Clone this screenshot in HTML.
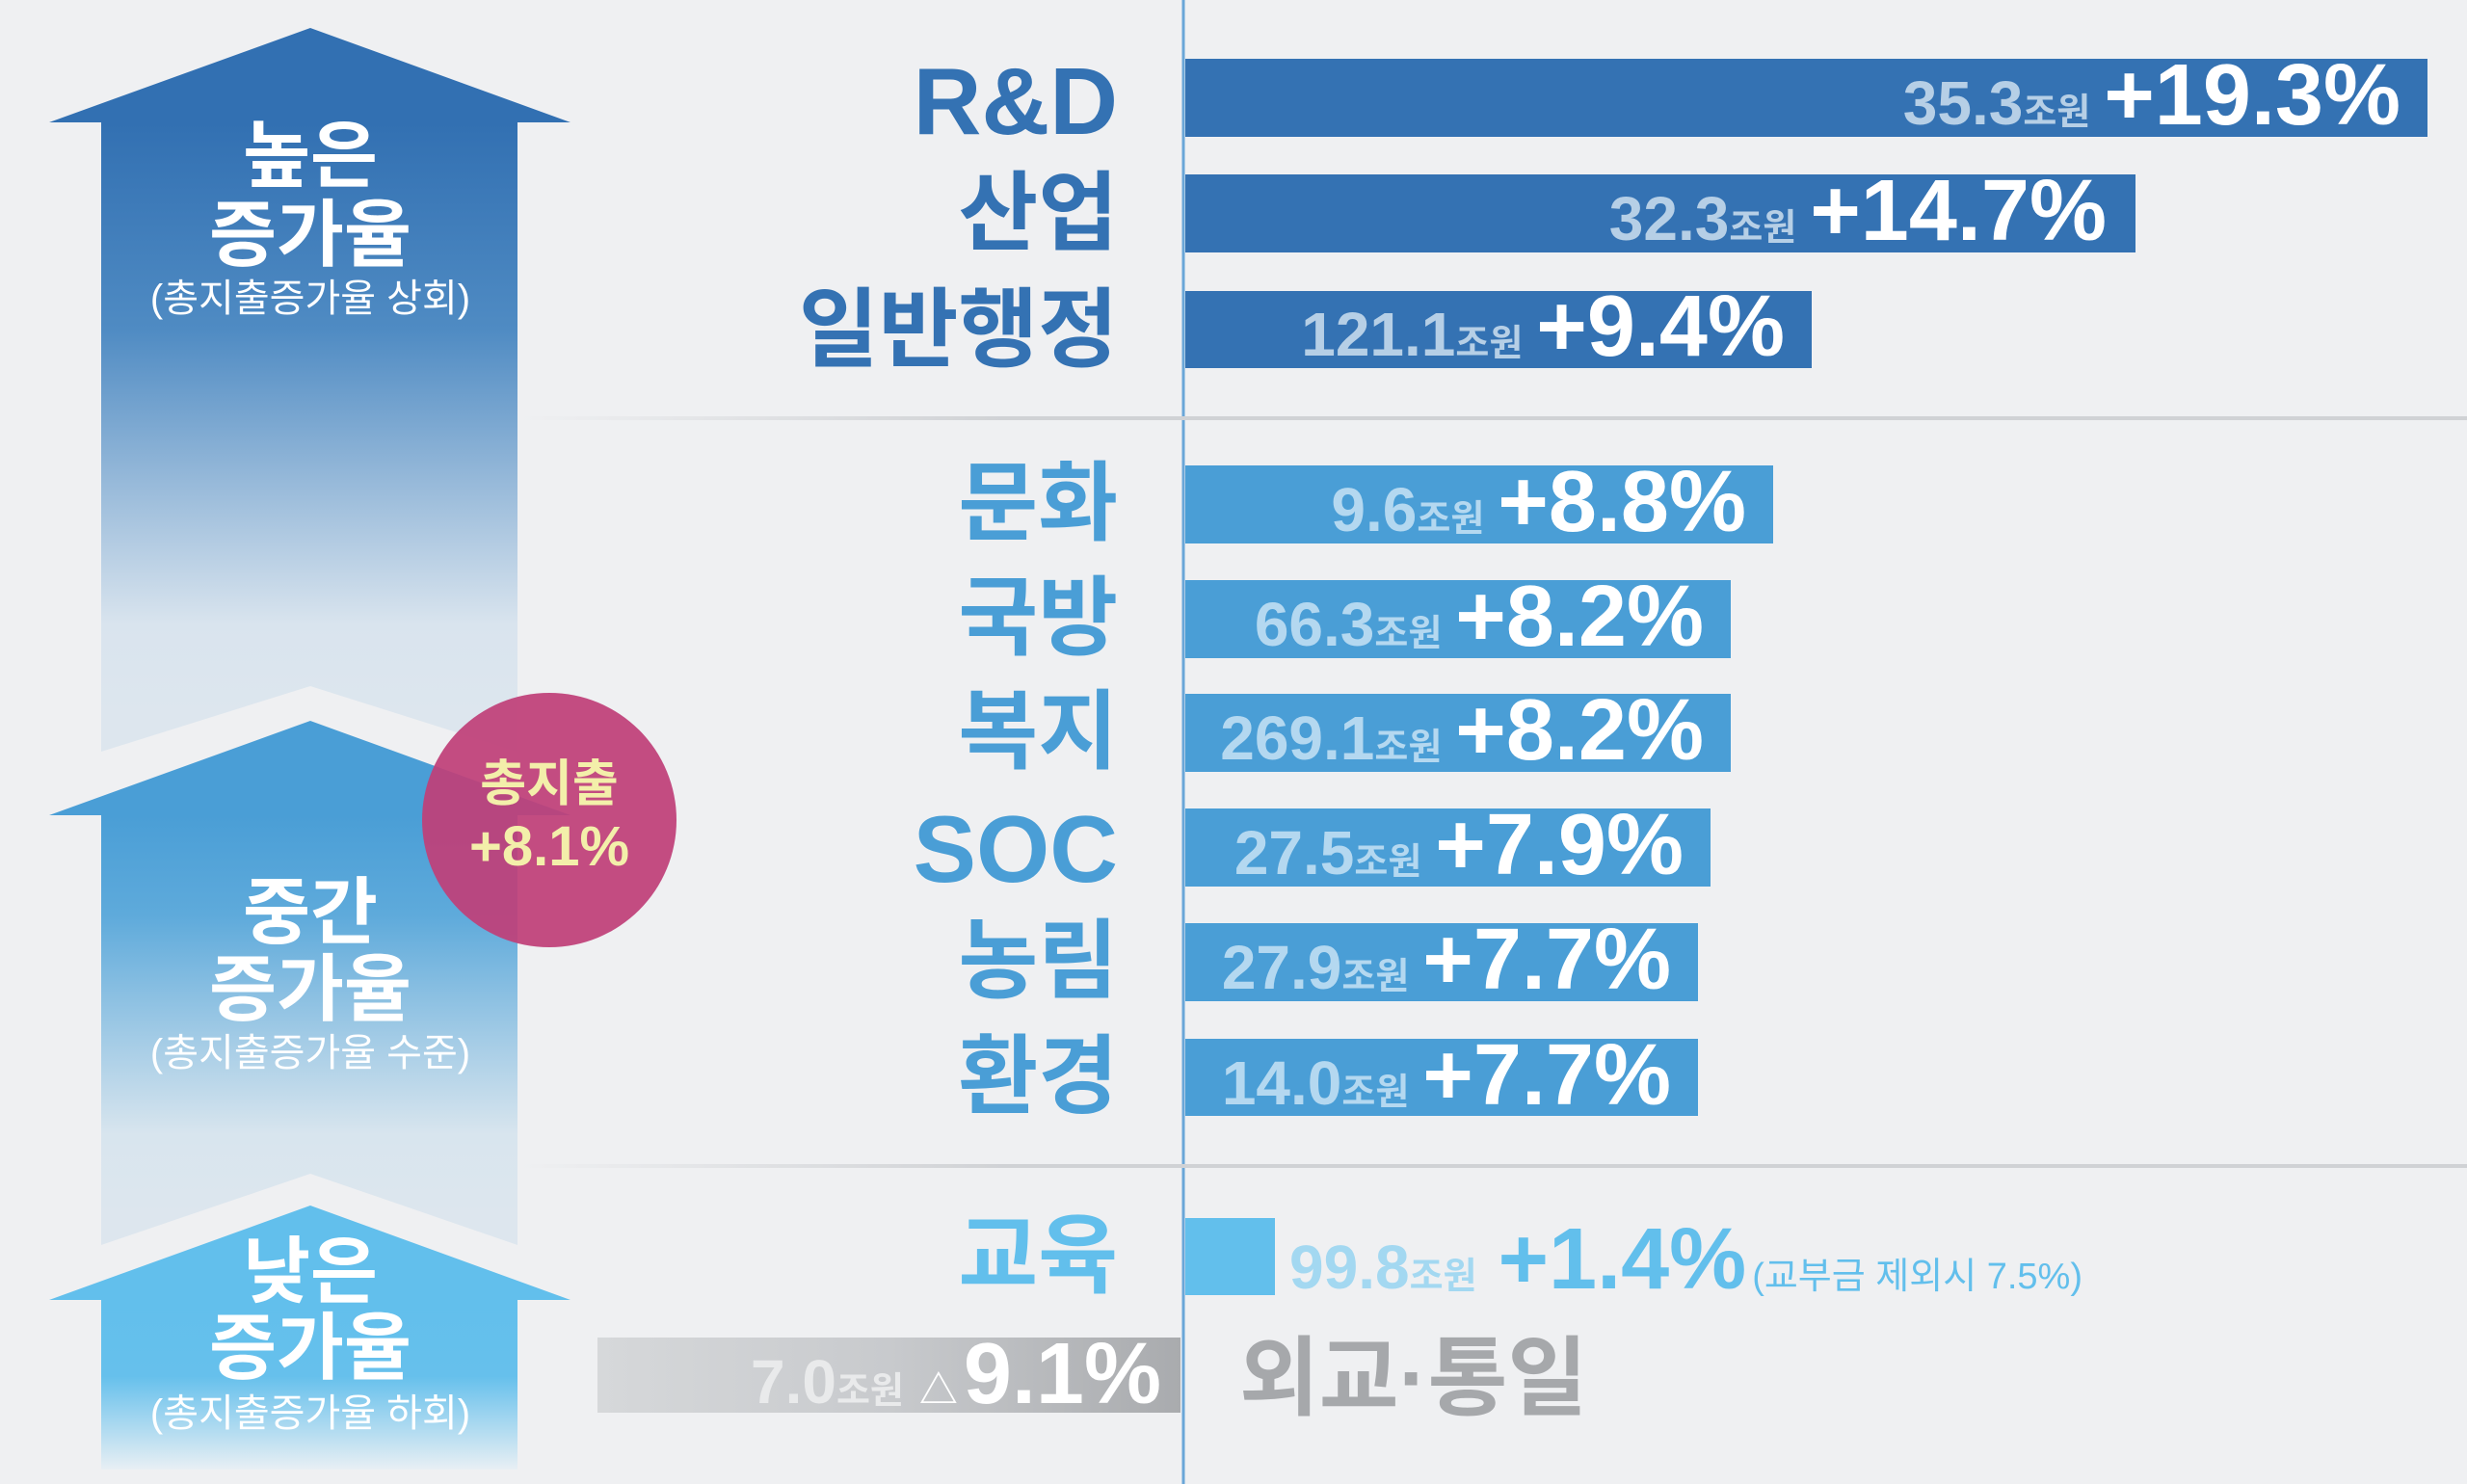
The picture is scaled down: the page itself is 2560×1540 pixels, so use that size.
<!DOCTYPE html>
<html><head><meta charset="utf-8"><style>
*{margin:0;padding:0;box-sizing:border-box}
body{width:2560px;height:1540px;background:#eff0f2;position:relative;overflow:hidden;font-family:"Liberation Sans","Noto Sans CJK KR",sans-serif}
.a{position:absolute}
.bar{position:absolute;left:1230px}
.lab{position:absolute;right:1400px;font-weight:700;font-size:90px;line-height:1;text-align:right;white-space:nowrap;font-family:"Liberation Sans","Noto Sans CJK KR",sans-serif}
.val{position:absolute;white-space:nowrap;font-weight:700;line-height:1;text-align:right}
.n{font-size:64px}
.u{font-size:38px}
.p{font-size:90px;color:#fff;margin-left:14px}
.sep{position:absolute;left:540px;width:2020px;height:4px;background:linear-gradient(90deg,rgba(210,212,215,0),#d0d2d5 25%,#d0d2d5)}
.at{position:absolute;width:540px;left:52px;text-align:center;color:#fff;font-weight:700;line-height:1}
.big{font-size:76px}
.sm{font-size:40px;font-weight:400}
</style></head><body>
<svg class="a" style="left:0;top:0" width="2560" height="1540">
<defs>
<linearGradient id="g1" x1="0" y1="127" x2="0" y2="740" gradientUnits="userSpaceOnUse"><stop offset="0" stop-color="#3270b2"/><stop offset="0.35" stop-color="#4f8bc3"/><stop offset="0.85" stop-color="#d9e4ee"/><stop offset="1" stop-color="#dde6ee"/></linearGradient>
<linearGradient id="g2" x1="0" y1="846" x2="0" y2="1260" gradientUnits="userSpaceOnUse"><stop offset="0" stop-color="#4a9ed6"/><stop offset="0.25" stop-color="#5eaadb"/><stop offset="0.8" stop-color="#d8e5ee"/><stop offset="1" stop-color="#dde6ee"/></linearGradient>
<linearGradient id="g3" x1="0" y1="1349" x2="0" y2="1525" gradientUnits="userSpaceOnUse"><stop offset="0" stop-color="#62bfec"/><stop offset="0.45" stop-color="#66c0ec"/><stop offset="1" stop-color="#e8eff4"/></linearGradient>
</defs>
<polygon points="322,29 592,127 537,127 537,780 322,712 105,780 105,127 51,127" fill="url(#g1)"/>
<polygon points="322,748 592,846 537,846 537,1292 322,1218 105,1292 105,846 51,846" fill="url(#g2)"/>
<polygon points="322,1251 592,1349 537,1349 537,1525 105,1525 105,1349 51,1349" fill="url(#g3)"/>
<line x1="1228" y1="0" x2="1228" y2="1540" stroke="#6aa6d8" stroke-width="3"/>
<circle cx="570" cy="851" r="132" fill="#bf3f78" fill-opacity="0.93"/>
</svg>
<div class="sep" style="top:432px"></div>
<div class="sep" style="top:1208px"></div>

<div class="at big" style="top:125px">높은</div>
<div class="at big" style="top:207px">증가율</div>
<div class="at sm" style="top:290px">(총지출증가율 상회)</div>
<div class="at big" style="top:910px">중간</div>
<div class="at big" style="top:990px">증가율</div>
<div class="at sm" style="top:1073px">(총지출증가율 수준)</div>
<div class="at big" style="top:1283px">낮은</div>
<div class="at big" style="top:1362px">증가율</div>
<div class="at sm" style="top:1447px">(총지출증가율 하회)</div>

<div class="a" style="left:438px;top:788px;width:264px;text-align:center;color:#f3efaa;font-weight:700;line-height:1">
<div style="font-size:52px">총지출</div><div style="font-size:58px;margin-top:10px">+8.1%</div></div>

<!-- high group -->
<div class="bar" style="top:61px;width:1289px;height:81px;background:#3472b3"></div>
<div class="bar" style="top:181px;width:986px;height:81px;background:#3472b3"></div>
<div class="bar" style="top:302px;width:650px;height:80px;background:#3472b3"></div>
<div class="lab" style="top:56px;color:#3472b3;font-size:98px">R&amp;D</div>
<div class="lab" style="top:177px;color:#3472b3">산업</div>
<div class="lab" style="top:298px;color:#3472b3">일반행정</div>
<div class="val" style="right:69px;top:54px;color:#b6cfe6"><span class="n">35.3</span><span class="u">조원</span><span class="p">+19.3%</span></div>
<div class="val" style="right:374px;top:174px;color:#b6cfe6"><span class="n">32.3</span><span class="u">조원</span><span class="p">+14.7%</span></div>
<div class="val" style="right:708px;top:294px;color:#b6cfe6"><span class="n">121.1</span><span class="u">조원</span><span class="p">+9.4%</span></div>

<!-- mid group -->
<div class="bar" style="top:483px;width:610px;height:81px;background:#4a9ed6"></div>
<div class="bar" style="top:602px;width:566px;height:81px;background:#4a9ed6"></div>
<div class="bar" style="top:720px;width:566px;height:81px;background:#4a9ed6"></div>
<div class="bar" style="top:839px;width:545px;height:81px;background:#4a9ed6"></div>
<div class="bar" style="top:958px;width:532px;height:81px;background:#4a9ed6"></div>
<div class="bar" style="top:1078px;width:532px;height:80px;background:#4a9ed6"></div>
<div class="lab" style="top:478px;color:#4a9ed6">문화</div>
<div class="lab" style="top:597px;color:#4a9ed6">국방</div>
<div class="lab" style="top:715px;color:#4a9ed6">복지</div>
<div class="lab" style="top:832px;color:#4a9ed6;font-size:98px">SOC</div>
<div class="lab" style="top:953px;color:#4a9ed6">농림</div>
<div class="lab" style="top:1073px;color:#4a9ed6">환경</div>
<div class="val" style="right:748px;top:476px;color:#b4d8f0"><span class="n">9.6</span><span class="u">조원</span><span class="p">+8.8%</span></div>
<div class="val" style="right:792px;top:595px;color:#b4d8f0"><span class="n">66.3</span><span class="u">조원</span><span class="p">+8.2%</span></div>
<div class="val" style="right:792px;top:713px;color:#b4d8f0"><span class="n">269.1</span><span class="u">조원</span><span class="p">+8.2%</span></div>
<div class="val" style="right:813px;top:832px;color:#b4d8f0"><span class="n">27.5</span><span class="u">조원</span><span class="p">+7.9%</span></div>
<div class="val" style="right:826px;top:951px;color:#b4d8f0"><span class="n">27.9</span><span class="u">조원</span><span class="p">+7.7%</span></div>
<div class="val" style="right:826px;top:1071px;color:#b4d8f0"><span class="n">14.0</span><span class="u">조원</span><span class="p">+7.7%</span></div>

<!-- low -->
<div class="bar" style="top:1264px;width:93px;height:80px;background:#62bfec"></div>
<div class="lab" style="top:1259px;color:#62bfec">교육</div>
<div class="val" style="left:1338px;top:1262px;text-align:left"><span class="n" style="color:#a3d8f1">99.8</span><span class="u" style="color:#a3d8f1">조원</span><span class="p" style="color:#62bfec;margin-left:22px">+1.4%</span><span style="font-size:38px;font-weight:400;color:#62bfec;margin-left:6px">(교부금 제외시 7.5%)</span></div>

<div class="a" style="left:620px;top:1388px;width:605px;height:78px;background:linear-gradient(90deg,#d6d8da,#c8cacd 50%,#a9abae)"></div>
<div class="val" style="right:1355px;top:1381px;color:#e9eaeb"><span class="n">7.0</span><span class="u">조원</span><span style="font-size:40px;color:#fff;margin-left:16px">△</span><span class="p" style="margin-left:6px">9.1%</span></div>
<div class="a" style="left:1286px;top:1386px;font-size:90px;font-weight:700;color:#a6a8ab;line-height:1;font-family:'Liberation Sans','Noto Sans CJK KR',sans-serif">외교·통일</div>
</body></html>
